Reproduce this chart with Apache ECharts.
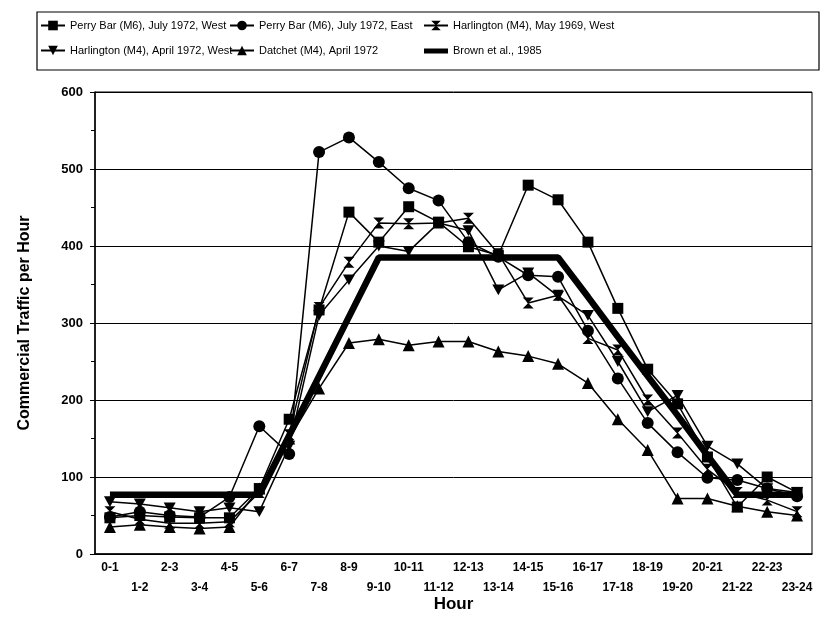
<!DOCTYPE html>
<html>
<head>
<meta charset="utf-8">
<script src="https://cdn.jsdelivr.net/npm/echarts@6/dist/echarts.min.js"></script>
<style>
  html, body { margin: 0; padding: 0; background: #fff; }
  #main { width: 822px; height: 617px; }
</style>
</head>
<body>
<div id="main"></div>
<script>
var hours = ['0-1','1-2','2-3','3-4','4-5','5-6','6-7','7-8','8-9','9-10','10-11','11-12',
             '12-13','13-14','14-15','15-16','16-17','17-18','18-19','19-20','20-21','21-22','22-23','23-24'];

var perryWest   = [47, 50, 48, 47, 47, 85, 175, 317, 444, 405, 451, 431, 399, 388, 479, 460, 405, 319, 240, 195, 126, 61, 100, 80];
var perryEast   = [48, 55, 50, 48, 74, 166, 130, 522, 541, 509, 475, 459, 405, 386, 362, 360, 290, 228, 170, 132, 99, 96, 85, 75];
var harlMay69   = [55, 45, 40, 40, 42, 80, 155, 320, 379, 430, 429, 430, 436, 390, 326, 336, 280, 265, 200, 157, 110, 80, 70, 55];
var harlApr72   = [68, 65, 60, 55, 60, 55, 140, 310, 356, 400, 393, 430, 420, 343, 365, 335, 310, 250, 185, 206, 140, 117, 85, 80];
var datchet     = [35, 38, 35, 33, 35, 85, 150, 215, 274, 279, 271, 276, 276, 263, 257, 247, 222, 175, 135, 72, 72, 62, 55, 50];
var brown1985   = [77, 77, 77, 77, 77, 77, 154, 231, 308, 385, 385, 385, 385, 385, 385, 385, 334, 282, 231, 180, 128, 77, 77, 77];

var names = [
  'Perry Bar (M6), July 1972, West',
  'Perry Bar (M6), July 1972, East',
  'Harlington (M4), May 1969, West',
  'Harlington (M4), April 1972, West',
  'Datchet (M4), April 1972',
  'Brown et al., 1985'
];

var bowtie = 'path://M0,0L10,0L5,5L10,10L0,10L5,5Z';
var triDown = 'path://M0,0L10,0L5,9Z';
// thick bar for the Brown legend entry (corner dots keep the box 24x12)
var barIcon = 'path://M0,0L0.01,0M24,12L23.99,12M0,3.5L24,3.5L24,8.5L0,8.5Z';
var fontSans = "'Liberation Sans', Arial, sans-serif";

function lineSeries(name, data, symbol, size) {
  return {
    name: name,
    type: 'line',
    data: data,
    symbol: symbol,
    symbolSize: size,
    symbolKeepAspect: true,
    showAllSymbol: true,
    itemStyle: { color: '#000' },
    lineStyle: { color: '#000', width: 1.5 }
  };
}

function legendCol(left, items) {
  return {
    orient: 'vertical',
    left: left,
    top: 20,
    itemGap: 14,
    itemWidth: 24,
    itemHeight: 12,
    padding: 0,
    data: items,
    textStyle: { fontFamily: fontSans, fontSize: 11, color: '#000' }
  };
}

var chart = echarts.init(document.getElementById('main'));
var option = {
  backgroundColor: '#fff',
  animation: false,
  graphic: [{
    type: 'rect',
    shape: { x: 37, y: 12, width: 782, height: 58 },
    style: { fill: 'none', stroke: '#000', lineWidth: 1.2 }
  }],
  legend: [
    legendCol(40, [names[0], names[3]]),
    legendCol(229, [names[1], names[4]]),
    legendCol(423, [names[2], { name: names[5], icon: barIcon }])
  ],
  grid: {
    left: 95, right: 10, top: 92, bottom: 63,
    outerBoundsMode: 'none',
    containLabel: false,
    show: true, borderColor: '#000', borderWidth: 1
  },
  xAxis: {
    type: 'category',
    data: hours,
    boundaryGap: true,
    name: 'Hour',
    nameLocation: 'middle',
    nameMoveOverlap: false,
    nameGap: 42,
    nameTextStyle: { fontFamily: fontSans, fontWeight: 'bold', fontSize: 17, color: '#000' },
    axisLine: { lineStyle: { color: '#000', width: 1.5 } },
    axisTick: { alignWithLabel: true, length: 6, lineStyle: { color: '#000' } },
    axisLabel: {
      interval: 0,
      margin: 4,
      color: '#000',
      fontFamily: fontSans,
      fontWeight: 'bold',
      fontSize: 12,
      lineHeight: 20,
      formatter: function (v, i) { return i % 2 ? '\n' + v : v; }
    }
  },
  yAxis: {
    type: 'value',
    min: 0, max: 600, interval: 100,
    name: 'Commercial Traffic per Hour',
    nameLocation: 'middle',
    nameMoveOverlap: false,
    nameGap: 62,
    nameTextStyle: { fontFamily: fontSans, fontWeight: 'bold', fontSize: 16, color: '#000' },
    axisLine: { show: true, lineStyle: { color: '#000', width: 1.5 } },
    axisTick: { show: true, length: 5, lineStyle: { color: '#000' } },
    minorTick: { show: true, splitNumber: 2, length: 4, lineStyle: { color: '#000' } },
    splitLine: { lineStyle: { color: '#000', width: 1 } },
    axisLabel: { color: '#000', fontFamily: fontSans, fontWeight: 'bold', fontSize: 13, margin: 12 }
  },
  series: [
    lineSeries(names[0], perryWest, 'rect', 11),
    lineSeries(names[1], perryEast, 'circle', 12),
    lineSeries(names[2], harlMay69, bowtie, 11),
    lineSeries(names[3], harlApr72, triDown, 12),
    lineSeries(names[4], datchet, 'triangle', 12),
    {
      name: names[5],
      type: 'line',
      data: brown1985,
      symbol: 'none',
      itemStyle: { color: '#000' },
      lineStyle: { color: '#000', width: 6.5 },
      z: 1
    }
  ]
};
chart.setOption(option, true);
</script>
</body>
</html>
